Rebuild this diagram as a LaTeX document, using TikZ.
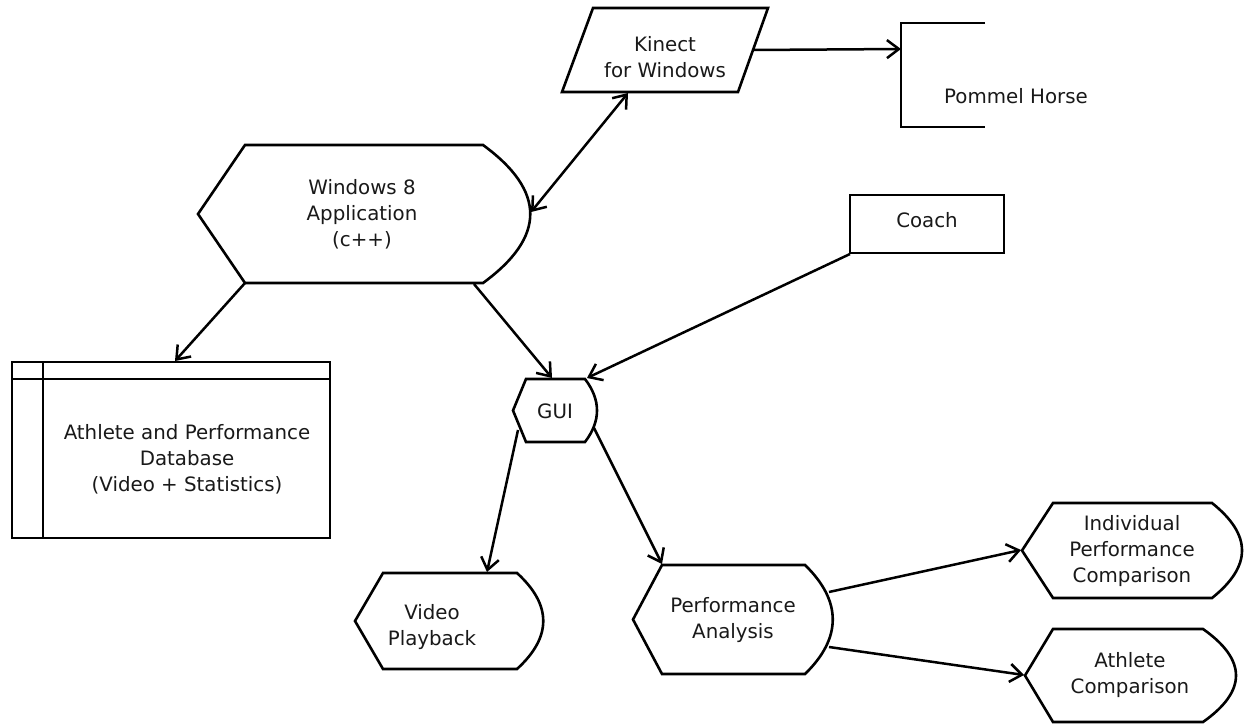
\documentclass[tikz,border=0pt]{standalone}
\usepackage{fontspec}
\setmainfont{DejaVu Sans}
\usetikzlibrary{arrows.meta}
\tikzset{
  every picture/.style={x=1pt,y=-1pt},
  shp/.style={draw=black,line width=2.6pt,line join=miter},
  txt/.style={align=center,inner sep=0pt,text=black!90,font=\fontsize{19.8}{26}\selectfont},
  tip/.style={},
  conn/.style={draw=black,line width=2.5pt,-{Straight Barb[length=12pt,width=18pt]}},
  dconn/.style={draw=black,line width=2.5pt,{Straight Barb[length=12pt,width=18pt]}-{Straight Barb[length=12pt,width=18pt]}}
}
\begin{document}
\begin{tikzpicture}
\useasboundingbox[fill=white] (0,0) rectangle (1248,725);
% shapes
\draw[shp] (593,8) -- (768,8) -- (738,92) -- (562,92) -- cycle;
\draw[shp,line cap=butt] (985,23) -- (901,23) -- (901,127) -- (985,127);
\draw[shp] (245,145) -- (483,145) .. controls (546,191) and (546,237) .. (483,283) -- (245,283) -- (198,214) -- cycle;
\draw[shp] (850,195) rectangle (1004,253);
\draw[shp] (12,362) rectangle (330,538);
\draw[shp] (12,379) -- (330,379);
\draw[shp] (43,362) -- (43,538);
\draw[shp] (526,379) -- (585,379) .. controls (601,400) and (601,421) .. (585,442) -- (526,442) -- (513,410.5) -- cycle;
\draw[shp] (383,573) -- (517,573) .. controls (552,605) and (552,637) .. (517,669) -- (383,669) -- (355,621) -- cycle;
\draw[shp] (662,565) -- (805,565) .. controls (842,601) and (842,638) .. (805,674) -- (662,674) -- (633,619.5) -- cycle;
\draw[shp] (1053,503) -- (1212,503) .. controls (1252,535) and (1252,566) .. (1212,598) -- (1053,598) -- (1022,550.5) -- cycle;
\draw[shp] (1053,629) -- (1203,629) .. controls (1247,660) and (1247,691) .. (1203,722) -- (1053,722) -- (1025,675.5) -- cycle;
% texts
\node[txt] (kinect) at (665,57.5) {Kinect\\for Windows};
\node[txt] (pommel) at (1016,96) {Pommel Horse};
\node[txt] (win) at (362,214) {Windows 8\\Application\\(c++)};
\node[txt] (coach) at (927,220) {Coach};
\node[txt] (db) at (187,459) {Athlete and Performance\\Database\\(Video + Statistics)};
\node[txt] (gui) at (555,411) {GUI};
\node[txt] (video) at (432,627) {Video\\Playback};
\node[txt] (pa) at (733,620) {Performance\\Analysis};
\node[txt] (ipc) at (1132,551) {Individual\\Performance\\Comparison};
\node[txt] (ac) at (1130,675) {Athlete\\Comparison};
% connector ends
\coordinate (kin-e) at (753,50);
\coordinate (pom-w) at (901,49);
\coordinate (kin-s) at (628,93);
\coordinate (win-e) at (531,212);
\coordinate (win-sw) at (245,283);
\coordinate (db-n) at (175,361);
\coordinate (win-se) at (474,284);
\coordinate (gui-n) at (552,378);
\coordinate (coach-sw) at (850,254);
\coordinate (gui-ne) at (587,378);
\coordinate (gui-sw) at (518,430);
\coordinate (video-n) at (487,572);
\coordinate (gui-se) at (594,428);
\coordinate (pa-n) at (662,564);
\coordinate (pa-ne) at (829,592);
\coordinate (ipc-w) at (1021,550);
\coordinate (pa-se) at (829,647);
\coordinate (ac-w) at (1024,675);
% connectors
\draw[conn] (kin-e) -- (pom-w);
\draw[dconn] (kin-s) -- (win-e);
\draw[conn] (win-sw) -- (db-n);
\draw[conn] (win-se) -- (gui-n);
\draw[conn] (coach-sw) -- (gui-ne);
\draw[conn] (gui-sw) -- (video-n);
\draw[conn] (gui-se) -- (pa-n);
\draw[conn] (pa-ne) -- (ipc-w);
\draw[conn] (pa-se) -- (ac-w);
\end{tikzpicture}
\end{document}
